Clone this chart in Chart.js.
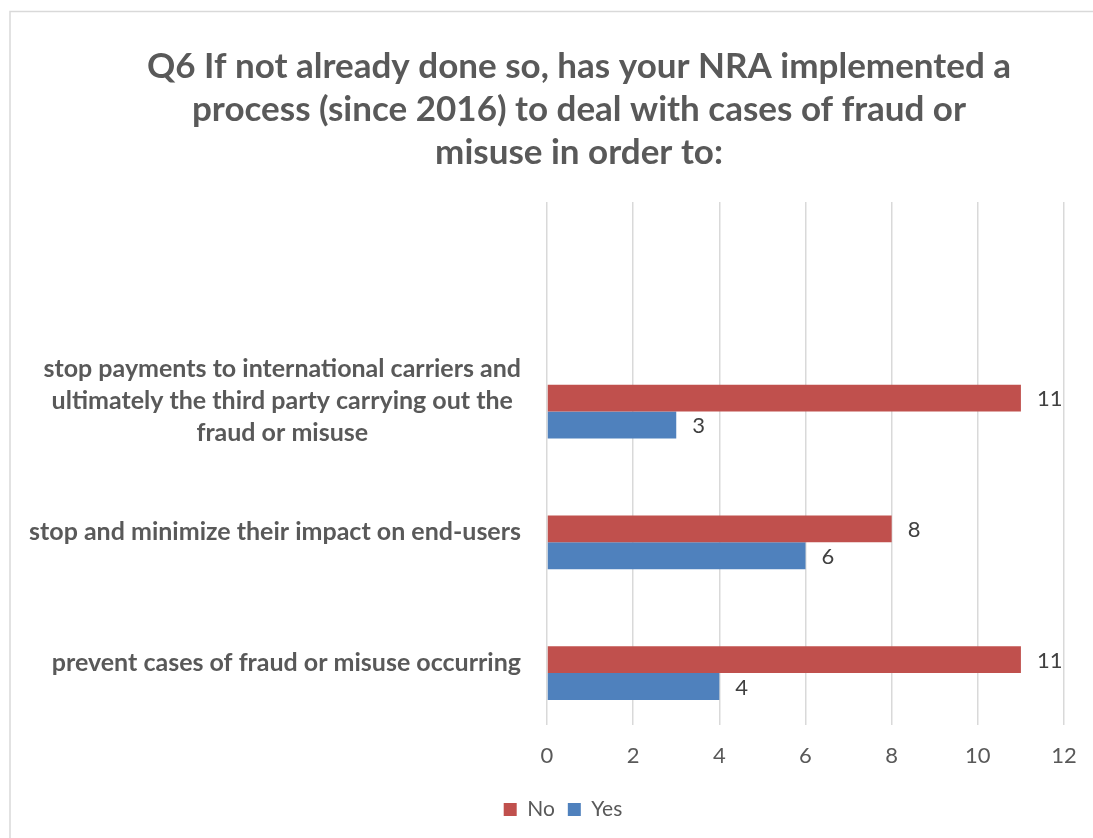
<!DOCTYPE html>
<html>
<head>
<meta charset="utf-8">
<title>Q6 fraud or misuse process</title>
<script src="https://cdn.jsdelivr.net/npm/chart.js@4.4.1/dist/chart.umd.min.js"></script>
<style>
  html, body { margin: 0; padding: 0; background: #ffffff; overflow: hidden; }
  #wrap { position: relative; width: 1093px; height: 838px; }
</style>
</head>
<body>
<div id="wrap"><canvas id="chart" width="1093" height="838"></canvas></div>
<script>
// ---- data ----
const titleLines = [
  'Q6 If not already done so, has your NRA implemented a',
  'process (since 2016) to deal with cases of fraud or',
  'misuse in order to:'
];
const categories = [
  ['stop payments to international carriers and', 'ultimately the third party carrying out the', 'fraud or misuse'],
  'stop and minimize their impact on end-users',
  'prevent cases of fraud or misuse occurring'
];
const seriesNames = ['No', 'Yes'];
const noValues = [11, 8, 11];
const yesValues = [3, 6, 4];
const xTicks = [0, 2, 4, 6, 8, 10, 12];

// ---- styling ----
const FONT = 'Lato, "Open Sans", sans-serif';
const GREY = '#595959';
const VALUE_GREY = '#404040';
const GRID = '#D9D9D9';
const RED = '#C0504D';
const BLUE = '#4F81BD';

// The axis keeps an empty band at the top, and each group keeps an empty
// slot above the two bars, as in the workbook this chart comes from.
const axisLabels = [''].concat(categories);
const withBlank = arr => [null].concat(arr);
const blankSlot = axisLabels.map(() => null);

const PLOT_LEFT = 547;
const LAYOUT = { top: 0, left: 94, right: 29, bottom: 8 };

// light frame around the chart object
const framePlugin = {
  id: 'frame',
  beforeDraw(chart) {
    const ctx = chart.ctx;
    ctx.save();
    ctx.fillStyle = '#ffffff';
    ctx.fillRect(0, 0, chart.width, chart.height);
    ctx.strokeStyle = GRID;
    ctx.lineWidth = 1.5;
    ctx.beginPath();
    ctx.moveTo(10, chart.height + 5);
    ctx.lineTo(10, 11.5);
    ctx.lineTo(chart.width + 5, 11.5);
    ctx.stroke();
    ctx.restore();
  }
};

// category names: wrapped lines centred on each other, block right-aligned to the axis
const categoryLabelPlugin = {
  id: 'categoryLabels',
  afterDraw(chart) {
    const ctx = chart.ctx;
    const yScale = chart.scales.y;
    const right = chart.chartArea.left - 26;
    const lineGap = 32;
    ctx.save();
    ctx.font = 'bold 25px ' + FONT;
    ctx.fillStyle = GREY;
    ctx.textAlign = 'center';
    ctx.textBaseline = 'middle';
    chart.data.labels.forEach((lab, i) => {
      const lines = Array.isArray(lab) ? lab : [lab];
      if (!lines[0]) return;
      const w = Math.max(...lines.map(l => ctx.measureText(l).width));
      const cx = right - w / 2;
      const cy = yScale.getPixelForTick(i) + 3;
      lines.forEach((l, k) => {
        ctx.fillText(l, cx, cy + (k - (lines.length - 1) / 2) * lineGap);
      });
    });
    ctx.restore();
  }
};

// value printed just past the end of each bar
const valueLabelPlugin = {
  id: 'valueLabels',
  afterDatasetsDraw(chart) {
    const ctx = chart.ctx;
    ctx.save();
    ctx.font = '22px ' + FONT;
    ctx.fillStyle = VALUE_GREY;
    ctx.textAlign = 'left';
    ctx.textBaseline = 'middle';
    chart.data.datasets.forEach((ds, di) => {
      const meta = chart.getDatasetMeta(di);
      meta.data.forEach((bar, i) => {
        const v = ds.data[i];
        if (v === null || v === undefined) return;
        ctx.fillText(String(v), bar.x + 16, bar.y + 1);
      });
    });
    ctx.restore();
  }
};

// legend sits a little left of the title's centre line
const legendOffsetPlugin = {
  id: 'legendOffset',
  afterLayout(chart) {
    if (chart.legend) {
      chart.legend.left -= 16;
      chart.legend.right -= 16;
    }
  }
};

new Chart(document.getElementById('chart'), {
  type: 'bar',
  data: {
    labels: axisLabels,
    datasets: [
      { label: '', data: blankSlot, backgroundColor: 'rgba(0,0,0,0)' },
      { label: seriesNames[0], data: withBlank(noValues), backgroundColor: RED },
      { label: seriesNames[1], data: withBlank(yesValues), backgroundColor: BLUE }
    ]
  },
  options: {
    indexAxis: 'y',
    responsive: false,
    animation: false,
    devicePixelRatio: 1,
    categoryPercentage: 0.616,
    barPercentage: 1,
    layout: { padding: LAYOUT },
    plugins: {
      title: {
        display: true,
        text: titleLines,
        color: GREY,
        font: { family: FONT, size: 35, weight: 'bold', lineHeight: '43px' },
        padding: { top: 45, bottom: 28 }
      },
      legend: {
        position: 'bottom',
        labels: {
          boxWidth: 13,
          boxHeight: 13,
          padding: 13,
          color: GREY,
          font: { family: FONT, size: 21 },
          filter: item => item.text !== ''
        }
      },
      tooltip: { enabled: false }
    },
    scales: {
      x: {
        type: 'linear',
        position: 'bottom',
        min: xTicks[0],
        max: xTicks[xTicks.length - 1],
        ticks: {
          stepSize: xTicks[1] - xTicks[0],
          color: GREY,
          padding: 4,
          font: { family: FONT, size: 22, lineHeight: '54px' }
        },
        grid: { color: GRID, lineWidth: 1.5, drawTicks: false },
        border: { display: false },
        afterFit(scale) { scale.height = 61; }
      },
      y: {
        type: 'category',
        ticks: { display: false },
        grid: { display: false },
        border: { display: false },
        afterFit(scale) { scale.width = PLOT_LEFT - LAYOUT.left; }
      }
    }
  },
  plugins: [framePlugin, categoryLabelPlugin, valueLabelPlugin, legendOffsetPlugin]
});
</script>
</body>
</html>
